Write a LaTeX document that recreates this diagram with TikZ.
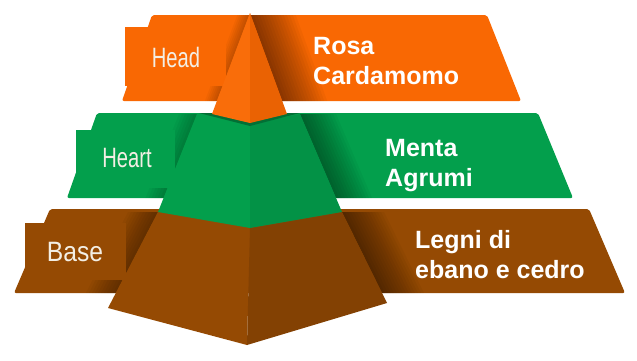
\documentclass[tikz,border=0pt]{standalone}
\usepackage{fontspec}
\setmainfont{Liberation Sans}
\definecolor{headorange}{RGB}{249,104,3}
\definecolor{heartgreen}{RGB}{3,159,76}
\definecolor{basebrown}{RGB}{149,74,3}
\definecolor{tagwhite}{RGB}{243,238,228}

\begin{document}
\begin{tikzpicture}[x=1pt,y=-1pt]
	\tikzstyle{note}=[text=white,font=\bfseries\fontsize{25}{30}\selectfont,align=left,anchor=north west,inner sep=0pt];
	\tikzstyle{tag}=[text=tagwhite,font=\fontsize{28}{28}\selectfont,inner sep=0pt,xscale=0.72];
	\tikzstyle{shadow}=[black,fill opacity=0.035];
	\useasboundingbox (0,0) rectangle (637,360);
	% back bands
	\fill[headorange,rounded corners=2pt] (152,15) -- (487,15) -- (521,101) -- (122,101) -- cycle;
	\fill[heartgreen,rounded corners=2pt] (97,113) -- (538,113) -- (573,198) -- (67,198) -- cycle;
	\fill[basebrown,rounded corners=2pt] (50,209) -- (589,209) -- (625,293) -- (14,293) -- cycle;
	% shadows of the pyramid on the bands
	\begin{scope}
		\clip (152,15) -- (487,15) -- (521,101) -- (122,101) -- cycle;
		\foreach \w in {3,6,...,45}
			\fill[shadow] (250,13) -- ++(\w,0) -- (287+\w,114) -- (287,114) -- cycle;
		\foreach \w in {2,4,...,12}
			\fill[shadow] (250,13) -- ++(-\w,0) -- (212-\w,114) -- (212,114) -- cycle;
	\end{scope}
	\begin{scope}
		\clip (97,113) -- (538,113) -- (573,198) -- (67,198) -- cycle;
		\foreach \w in {3,6,...,36}
			\fill[shadow] (300,114) -- ++(\w,0) -- (342+\w,212) -- (342,212) -- cycle;
		\foreach \w in {3,6,...,18}
			\fill[shadow] (197,114) -- ++(-\w,0) -- (158-\w,212) -- (158,212) -- cycle;
	\end{scope}
	\begin{scope}
		\clip (50,209) -- (589,209) -- (625,293) -- (14,293) -- cycle;
		\foreach \w in {3,6,...,42}
			\fill[shadow] (342,212) -- ++(\w,0) -- (387+\w,303) -- (387,303) -- cycle;
		\foreach \w in {3,6,...,30}
			\fill[shadow] (158,212) -- ++(-\w,0) -- (108-\w,308) -- (108,308) -- cycle;
	\end{scope}
	% label boxes
	\fill[headorange] (125,27) rectangle (226,86);
	\fill[heartgreen] (76,130) rectangle (175,188);
	\fill[basebrown] (25,223) rectangle (126,280);
	\node[tag] (head)  at (176,57)  {Head};
	\node[tag] (heart) at (127,158) {Heart};
	\node[tag,xscale=0.88/0.72] (base) at (75,252) {Base};
	% pyramid
	\fill[basebrown] (158,212) -- (250,228) -- (247,345) -- (108,308) -- cycle;
	\fill[basebrown!88!black] (250,228) -- (342,212) -- (387,303) -- (247,345) -- cycle;
	\fill[heartgreen] (197,114) -- (250,124) -- (250,228) -- (158,212) -- cycle;
	\fill[heartgreen!92!black] (250,124) -- (300,114) -- (342,212) -- (250,228) -- cycle;
	\fill[heartgreen!70!black] (199,113) -- (300,113) -- (288,116) -- (250,126) -- (211,116) -- cycle;
	\fill[headorange!97!white] (250,13) -- (212,114) -- (250,123) -- cycle;
	\fill[headorange!94!black] (250,13) -- (250,123) -- (287,114) -- cycle;
	% notes
	\node[note] (rosa)  at (313,37)  {Rosa\\Cardamomo};
	\node[note] (menta) at (385,139) {Menta\\Agrumi};
	\node[note] (legni) at (415,230) {Legni di\\ebano e cedro};
\end{tikzpicture}
\end{document}
